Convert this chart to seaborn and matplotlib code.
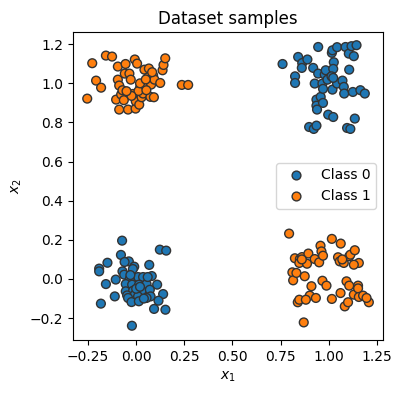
import matplotlib
matplotlib.use('Agg')
import matplotlib.pyplot as plt
import numpy as np
import pandas as pd
import seaborn as sns

# Puntos (clase 0: esquinas (0,0) y (1,1), clase 1: (0,1) y (1,0))
c0_low_x = [-0.073, 0.123, 0.156, -0.079, -0.149, -0.192, -0.192, -0.038, -0.060, -0.010,
            -0.017, 0.068, -0.071, -0.062, -0.016, 0.010, 0.036, 0.081, -0.106, -0.033,
            -0.157, -0.054, -0.021, 0.015, 0.054, 0.109, -0.054, -0.016, 0.028, 0.071,
            -0.047, -0.007, 0.010, 0.075, 0.140, -0.111, -0.042, -0.024, 0.014, 0.054,
            0.116, -0.183, 0.093, 0.152, -0.022, 0.000, 0.020, -0.030, 0.040, 0.060]
c0_low_y = [0.196, 0.150, 0.145, 0.123, 0.083, 0.053, 0.039, 0.090, 0.087, 0.063,
            0.051, 0.072, 0.039, 0.022, 0.005, 0.010, 0.010, 0.015, -0.003, 0.000,
            -0.026, -0.026, -0.029, -0.029, -0.026, -0.029, -0.063, -0.060, -0.060, -0.055,
            -0.084, -0.080, -0.089, -0.089, -0.077, -0.089, -0.097, -0.118, -0.114, -0.097,
            -0.111, -0.126, -0.153, -0.157, -0.239, -0.050, -0.040, 0.020, -0.100, 0.010]

c0_high_x = [0.760, 0.841, 0.825, 0.825, 0.862, 0.860, 0.889, 0.919, 0.945, 0.927,
             0.945, 0.936, 0.936, 0.958, 0.970, 0.939, 0.898, 0.922, 0.936, 0.967,
             0.979, 0.970, 0.984, 0.993, 0.997, 1.023, 1.016, 1.019, 1.043, 1.026,
             1.023, 1.014, 1.019, 1.043, 1.023, 1.071, 1.078, 1.087, 1.104, 1.118,
             1.130, 1.144, 1.080, 1.106, 1.125, 1.164, 1.187, 1.135, 1.095, 1.112]
c0_high_y = [1.099, 1.135, 1.036, 1.002, 1.104, 1.079, 1.122, 1.079, 1.186, 0.999,
             1.050, 0.917, 0.886, 0.931, 0.900, 0.866, 0.777, 0.767, 0.784, 0.999,
             1.045, 0.972, 1.067, 1.019, 0.840, 0.828, 1.156, 1.169, 1.185, 1.108,
             1.074, 1.036, 0.968, 0.999, 1.028, 1.014, 0.982, 1.186, 1.152, 1.190,
             1.139, 1.195, 0.948, 1.070, 0.956, 0.965, 0.948, 0.820, 0.772, 0.767]

c1_left_x = [-0.254, -0.228, -0.208, -0.182, -0.157, -0.125, -0.095, -0.095, -0.088, -0.104,
             -0.088, -0.078, -0.064, -0.071, -0.055, -0.059, -0.035, -0.028, -0.042, -0.017,
             -0.007, 0.005, -0.003, -0.002, 0.016, 0.021, 0.028, 0.036, 0.043, 0.048,
             0.066, 0.062, 0.078, 0.074, 0.092, 0.088, 0.095, 0.125, 0.137, 0.142,
             0.151, 0.237, 0.270, 0.083, 0.012, 0.053, -0.024, 0.020, 0.050, -0.050]
c1_left_y = [0.922, 1.103, 1.014, 0.978, 1.142, 1.137, 1.086, 1.019, 0.989, 0.917,
             0.866, 0.943, 0.914, 0.965, 1.099, 1.050, 1.050, 1.019, 0.866, 0.946,
             1.122, 1.101, 0.871, 0.908, 0.891, 0.980, 0.929, 0.948, 1.070, 0.977,
             1.076, 1.031, 0.994, 0.931, 0.929, 1.041, 1.019, 1.002, 1.067, 1.094,
             1.128, 0.992, 0.992, 1.057, 0.961, 0.965, 0.936, 1.000, 1.020, 0.960]

c1_right_x = [0.794, 0.824, 0.811, 0.815, 0.832, 0.850, 0.847, 0.861, 0.839, 0.847,
              0.875, 0.887, 0.894, 0.910, 0.901, 0.881, 0.870, 0.933, 0.927, 0.950,
              0.957, 0.962, 0.970, 0.967, 0.988, 1.016, 1.016, 1.062, 1.048, 1.057,
              1.078, 1.106, 1.112, 1.135, 1.156, 1.061, 1.092, 1.106, 1.083, 1.100,
              1.130, 1.152, 1.152, 1.156, 1.178, 1.208, 1.196, 1.130, 0.860, 1.070]
c1_right_y = [0.232, 0.106, 0.034, -0.007, 0.031, 0.102, 0.082, 0.112, -0.119, -0.106,
              0.014, 0.078, 0.130, -0.037, -0.085, -0.106, -0.222, -0.097, 0.102, 0.085,
              0.170, 0.141, 0.119, -0.009, -0.034, -0.102, 0.205, 0.181, 0.111, 0.090,
              0.082, 0.116, 0.124, 0.147, 0.082, -0.072, -0.012, -0.034, -0.140, -0.119,
              -0.080, -0.034, -0.048, -0.092, -0.085, -0.119, -0.097, 0.073, 0.100, 0.100]

# Armar la tabla
df = pd.DataFrame({
    'x1': c0_low_x + c0_high_x + c1_left_x + c1_right_x,
    'x2': c0_low_y + c0_high_y + c1_left_y + c1_right_y,
    'label': ['Class 0'] * (len(c0_low_x) + len(c0_high_x))
             + ['Class 1'] * (len(c1_left_x) + len(c1_right_x)),
})

fig, ax = plt.subplots(figsize=(4.02, 3.94))
fig.subplots_adjust(left=0.182, right=0.953, top=0.919, bottom=0.137)

sns.scatterplot(data=df, x='x1', y='x2', hue='label', palette=['#1f77b4', '#ff7f0e'],
                edgecolor='#333333', linewidth=1, s=40, ax=ax)

ax.set_xlim(-0.327, 1.282)
ax.set_ylim(-0.312, 1.263)
ax.set_xticks(np.arange(-0.25, 1.26, 0.25))
ax.set_yticks(np.arange(-0.2, 1.21, 0.2))
ax.set_title('Dataset samples')
ax.set_xlabel('$x_1$')
ax.set_ylabel('$x_2$')
ax.legend(loc='center right', title=None)

fig.savefig('out.png', dpi=100)
